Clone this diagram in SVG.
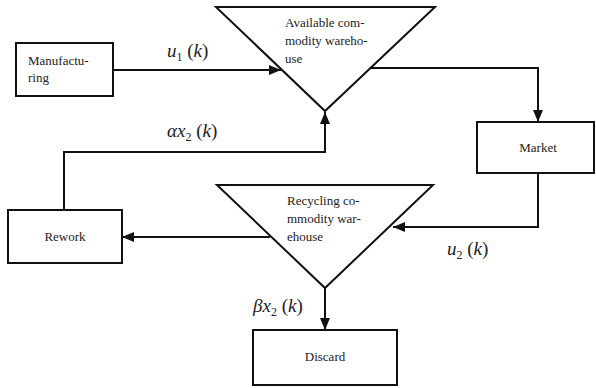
<svg xmlns="http://www.w3.org/2000/svg" width="596" height="388" viewBox="0 0 596 388" font-family="Liberation Serif, DejaVu Serif, serif">
  <defs>
    <marker id="arrow" viewBox="0 0 12 10" refX="12" refY="5" markerWidth="12" markerHeight="10" markerUnits="userSpaceOnUse" orient="auto">
      <path d="M0,0 L12,5 L0,10 Z" fill="#111"/>
    </marker>
  </defs>
  <style>
    .box { fill: #fff; stroke: #111; stroke-width: 2; }
    .tri { fill: #fff; stroke: #111; stroke-width: 2; stroke-linejoin: miter; }
    .txt { font-size: 13px; fill: #222; }
    .lbl { font-size: 19px; fill: #222; }
    .it { font-style: italic; }
    .sub { font-size: 12px; }
    .edge { fill: none; stroke: #111; stroke-width: 2; marker-end: url(#arrow); }
  </style>
  <rect width="596" height="388" fill="#fff"/>

  <g id="connectors">
    <path class="edge" d="M113,70 H281"/>
    <path class="edge" d="M370,68 H538 V122"/>
    <path class="edge" d="M538,174 V227 H393"/>
    <path class="edge" d="M270,237 H122"/>
    <path class="edge" d="M64,210 V152 H325 V112"/>
    <path class="edge" d="M325,288 V330"/>
  </g>

  <g id="manufacturing">
    <rect class="box" x="16" y="43" width="97" height="53"/>
    <text class="txt" font-family="Liberation Serif" x="28" y="65">Manufactu-</text>
    <text class="txt" font-family="Liberation Serif" x="28" y="82">ring</text>
  </g>

  <g id="available-warehouse">
    <polygon class="tri" points="216,7 435,7 325,111"/>
    <text class="txt" x="285" y="27">Available com-</text>
    <text class="txt" x="285" y="45">modity wareho-</text>
    <text class="txt" x="285" y="63">use</text>
  </g>

  <g id="market">
    <rect class="box" x="477" y="122" width="117" height="51"/>
    <text class="txt" x="538" y="152" text-anchor="middle">Market</text>
  </g>

  <g id="recycling-warehouse">
    <polygon class="tri" points="217,185 433,185 325,288"/>
    <text class="txt" x="287" y="205">Recycling co-</text>
    <text class="txt" x="287" y="223">mmodity war-</text>
    <text class="txt" x="287" y="241">ehouse</text>
  </g>

  <g id="rework">
    <rect class="box" x="8" y="210" width="114" height="53"/>
    <text class="txt" x="65" y="241" text-anchor="middle">Rework</text>
  </g>

  <g id="discard">
    <rect class="box" x="253" y="330" width="144" height="55"/>
    <text class="txt" x="325" y="361" text-anchor="middle">Discard</text>
  </g>

  <g id="labels">
    <text class="lbl" x="167" y="57"><tspan class="it">u</tspan><tspan class="sub" dy="4">1</tspan><tspan dy="-4"> (</tspan><tspan class="it">k</tspan>)</text>
    <text class="lbl" x="167" y="137"><tspan class="it">αx</tspan><tspan class="sub" dy="4">2</tspan><tspan dy="-4"> (</tspan><tspan class="it">k</tspan>)</text>
    <text class="lbl" x="447" y="255"><tspan class="it">u</tspan><tspan class="sub" dy="4">2</tspan><tspan dy="-4"> (</tspan><tspan class="it">k</tspan>)</text>
    <text class="lbl" x="253" y="312"><tspan class="it">βx</tspan><tspan class="sub" dy="4">2</tspan><tspan dy="-4"> (</tspan><tspan class="it">k</tspan>)</text>
  </g>
</svg>
